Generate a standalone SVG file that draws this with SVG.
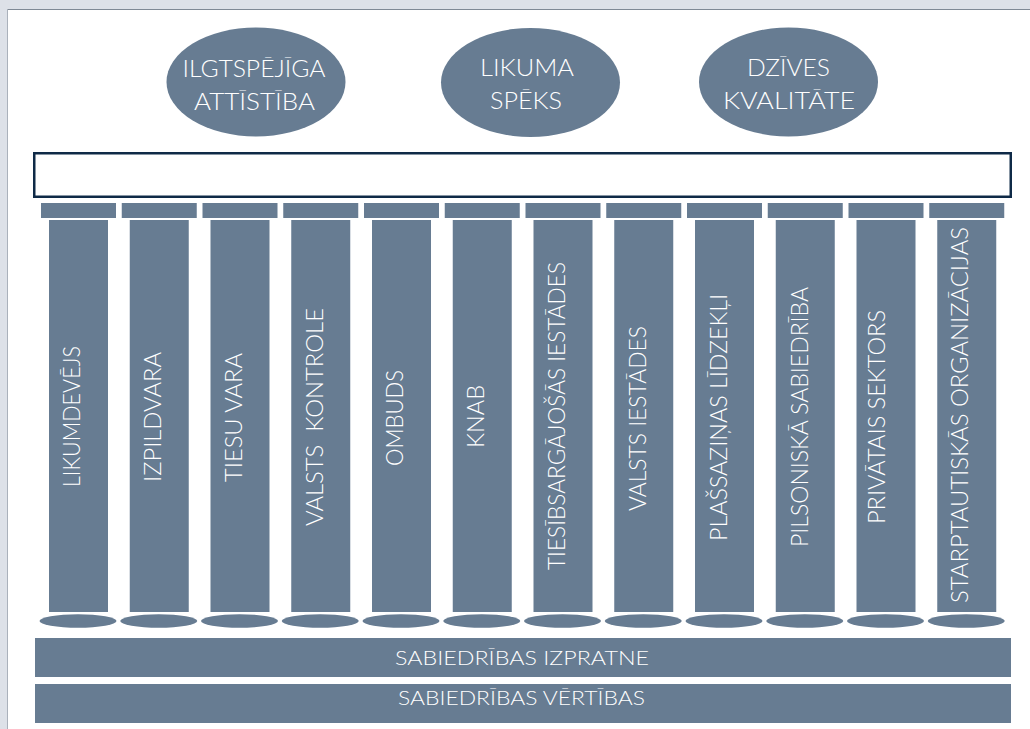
<svg xmlns="http://www.w3.org/2000/svg" width="1030" height="729" viewBox="0 0 1030 729">
<style>
.f{fill:#677c92}
.t{fill:#ffffff;font-family:Lato,"Liberation Sans",sans-serif;font-weight:300;text-anchor:middle}
.e{font-size:24px}
.v{font-size:24px}
.b{font-size:20px}
</style>
<rect x="0" y="0" width="1030" height="729" fill="#dde1e8"/>
<rect x="7" y="9" width="1030" height="730" fill="#ffffff"/>
<line x1="7" y1="9.5" x2="1030" y2="9.5" stroke="#7f8995" stroke-width="1"/>
<line x1="7.5" y1="9" x2="7.5" y2="729" stroke="#aab1bb" stroke-width="1"/>

<g id="goal-ilgtspejiga">
<ellipse class="f" cx="256" cy="82" rx="89.5" ry="54.5"/>
<text class="t e" x="254" y="77" textLength="143" lengthAdjust="spacingAndGlyphs">ILGTSPĒJĪGA</text>
<text class="t e" x="254.5" y="110" textLength="121" lengthAdjust="spacingAndGlyphs">ATTĪSTĪBA</text>
</g>
<g id="goal-likuma">
<ellipse class="f" cx="530.5" cy="82.5" rx="89.5" ry="54.5"/>
<text class="t e" x="527" y="76" textLength="94" lengthAdjust="spacingAndGlyphs">LIKUMA</text>
<text class="t e" x="526" y="109" textLength="72" lengthAdjust="spacingAndGlyphs">SPĒKS</text>
</g>
<g id="goal-dzives">
<ellipse class="f" cx="788.5" cy="82" rx="89.5" ry="54.5"/>
<text class="t e" x="788.5" y="76" textLength="83" lengthAdjust="spacingAndGlyphs">DZĪVES</text>
<text class="t e" x="789" y="109" textLength="132" lengthAdjust="spacingAndGlyphs">KVALITĀTE</text>
</g>

<g id="roof">
<rect x="34.25" y="153.25" width="976.5" height="43.5" fill="#ffffff" stroke="#0f2a47" stroke-width="2.5"/>
</g>

<g id="pillar-1"><rect class="f" x="41" y="203" width="75" height="15"/><rect class="f" x="49" y="220" width="59" height="392"/><ellipse class="f" cx="78" cy="621" rx="38.5" ry="6.8"/>
<text class="t v" transform="translate(80,416.5) rotate(-90)" textLength="141" lengthAdjust="spacingAndGlyphs">LIKUMDEVĒJS</text></g>
<g id="pillar-2"><rect class="f" x="121.75" y="203" width="75" height="15"/><rect class="f" x="129.75" y="220" width="59" height="392"/><ellipse class="f" cx="158.75" cy="621" rx="38.5" ry="6.8"/>
<text class="t v" transform="translate(160.75,417) rotate(-90)" textLength="130" lengthAdjust="spacingAndGlyphs">IZPILDVARA</text></g>
<g id="pillar-3"><rect class="f" x="202.5" y="203" width="75" height="15"/><rect class="f" x="210.5" y="220" width="59" height="392"/><ellipse class="f" cx="239.5" cy="621" rx="38.5" ry="6.8"/>
<text class="t v" transform="translate(242,417.5) rotate(-90)" textLength="129" lengthAdjust="spacingAndGlyphs">TIESU VARA</text></g>
<g id="pillar-4"><rect class="f" x="283.25" y="203" width="75" height="15"/><rect class="f" x="291.25" y="220" width="59" height="392"/><ellipse class="f" cx="320.25" cy="621" rx="38.5" ry="6.8"/>
<text class="t v" xml:space="preserve" transform="translate(323,417) rotate(-90)" textLength="218" lengthAdjust="spacingAndGlyphs">VALSTS  KONTROLE</text></g>
<g id="pillar-5"><rect class="f" x="364" y="203" width="75" height="15"/><rect class="f" x="372" y="220" width="59" height="392"/><ellipse class="f" cx="401" cy="621" rx="38.5" ry="6.8"/>
<text class="t v" transform="translate(403,418) rotate(-90)" textLength="96" lengthAdjust="spacingAndGlyphs">OMBUDS</text></g>
<g id="pillar-6"><rect class="f" x="444.75" y="203" width="75" height="15"/><rect class="f" x="452.75" y="220" width="59" height="392"/><ellipse class="f" cx="481.75" cy="621" rx="38.5" ry="6.8"/>
<text class="t v" transform="translate(483.5,416.5) rotate(-90)" textLength="63" lengthAdjust="spacingAndGlyphs">KNAB</text></g>
<g id="pillar-7"><rect class="f" x="525.5" y="203" width="75" height="15"/><rect class="f" x="533.5" y="220" width="59" height="392"/><ellipse class="f" cx="562.5" cy="621" rx="38.5" ry="6.8"/>
<text class="t v" transform="translate(565,416) rotate(-90)" textLength="308" lengthAdjust="spacingAndGlyphs">TIESĪBSARGĀJOŠĀS IESTĀDES</text></g>
<g id="pillar-8"><rect class="f" x="606.25" y="203" width="75" height="15"/><rect class="f" x="614.25" y="220" width="59" height="392"/><ellipse class="f" cx="643.25" cy="621" rx="38.5" ry="6.8"/>
<text class="t v" transform="translate(645.5,418.5) rotate(-90)" textLength="185" lengthAdjust="spacingAndGlyphs">VALSTS IESTĀDES</text></g>
<g id="pillar-9"><rect class="f" x="687" y="203" width="75" height="15"/><rect class="f" x="695" y="220" width="59" height="392"/><ellipse class="f" cx="724" cy="621" rx="38.5" ry="6.8"/>
<text class="t v" transform="translate(726.5,417.5) rotate(-90)" textLength="247" lengthAdjust="spacingAndGlyphs">PLAŠSAZIŅAS LĪDZEKĻI</text></g>
<g id="pillar-10"><rect class="f" x="767.75" y="203" width="75" height="15"/><rect class="f" x="775.75" y="220" width="59" height="392"/><ellipse class="f" cx="804.75" cy="621" rx="38.5" ry="6.8"/>
<text class="t v" transform="translate(807.5,417) rotate(-90)" textLength="260" lengthAdjust="spacingAndGlyphs">PILSONISKĀ SABIEDRĪBA</text></g>
<g id="pillar-11"><rect class="f" x="848.5" y="203" width="75" height="15"/><rect class="f" x="856.5" y="220" width="59" height="392"/><ellipse class="f" cx="885.5" cy="621" rx="38.5" ry="6.8"/>
<text class="t v" transform="translate(885,417) rotate(-90)" textLength="214" lengthAdjust="spacingAndGlyphs">PRIVĀTAIS SEKTORS</text></g>
<g id="pillar-12"><rect class="f" x="929.25" y="203" width="75" height="15"/><rect class="f" x="937.25" y="220" width="59" height="392"/><ellipse class="f" cx="966.25" cy="621" rx="38.5" ry="6.8"/>
<text class="t v" transform="translate(968,415) rotate(-90)" textLength="376" lengthAdjust="spacingAndGlyphs">STARPTAUTISKĀS ORGANIZĀCIJAS</text></g>

<g id="base-izpratne">
<rect class="f" x="35" y="638" width="976" height="39"/>
<text class="t b" x="522" y="664.5" textLength="254" lengthAdjust="spacingAndGlyphs">SABIEDRĪBAS IZPRATNE</text>
</g>
<g id="base-vertibas">
<rect class="f" x="35" y="684" width="976" height="39"/>
<text class="t b" x="521.5" y="705" textLength="247" lengthAdjust="spacingAndGlyphs">SABIEDRĪBAS VĒRTĪBAS</text>
</g>
<g id="connectors"/>
</svg>
